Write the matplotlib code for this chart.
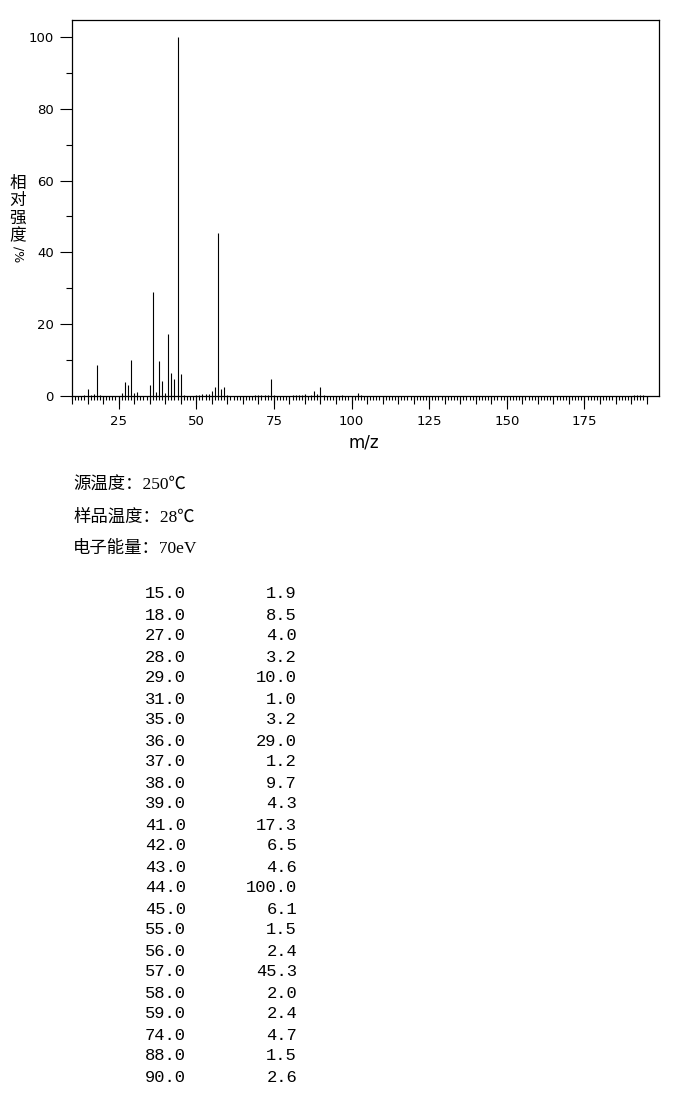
"""Mass spectrum (EI, 70 eV) — bar-line plot plus peak table below."""
import matplotlib
matplotlib.use("Agg")
import matplotlib.pyplot as plt
from matplotlib.ticker import MultipleLocator, NullFormatter, FixedLocator

# listed peaks (m/z, relative intensity %)
peak_mz = [15, 18, 27, 28, 29, 31, 35, 36, 37, 38, 39, 41, 42, 43, 44, 45,
           55, 56, 57, 58, 59, 74, 88, 90]
peak_int = [1.9, 8.5, 4.0, 3.2, 10.0, 1.0, 3.2, 29.0, 1.2, 9.7, 4.3, 17.3,
            6.5, 4.6, 100.0, 6.1, 1.5, 2.4, 45.3, 2.0, 2.4, 4.7, 1.5, 2.6]

# weak peaks (<1 %) visible in the plot but not in the table
weak_mz = [14, 16, 17, 19, 26, 30, 40, 46, 50, 51, 52, 53, 54, 60,
           69, 70, 71, 72, 73, 75, 81, 82, 83, 84, 85, 87, 89, 91,
           97, 102, 103, 191, 192, 193, 194]
weak_int = [0.4, 0.4, 0.5, 0.4, 0.7, 0.7, 0.9, 0.3, 0.4, 0.4, 0.5, 0.5, 0.6, 0.4,
            0.4, 0.4, 0.4, 0.4, 0.4, 0.4, 0.3, 0.4, 0.4, 0.4, 0.5, 0.4, 0.5, 0.4,
            0.3, 0.8, 0.4, 0.3, 0.3, 0.3, 0.3]

header_lines = ["源温度：250℃", "样品温度：28℃", "电子能量：70eV"]

W, H = 680, 1106


def fx(px):
    return px / W


def fy(py):
    return 1 - py / H


fig = plt.figure(figsize=(W / 100, H / 100), dpi=100)
ax = fig.add_axes([fx(72), fy(396), fx(659) - fx(72), fy(20) - fy(396)])

ax.vlines(weak_mz, 0, weak_int, color="k", lw=0.8)
ax.vlines(peak_mz, 0, peak_int, color="k", lw=0.8)

ax.set_xlim(10, 199)
ax.set_ylim(0, 104.7)
for s in ax.spines.values():
    s.set_linewidth(0.9)

ax.set_xticks([25, 50, 75, 100, 125, 150, 175])
ax.xaxis.set_minor_locator(FixedLocator(list(range(10, 196))))
ax.yaxis.set_major_locator(MultipleLocator(20))
ax.yaxis.set_minor_locator(MultipleLocator(10))
ax.tick_params(axis="x", which="major", length=9, width=0.8, pad=5,
               labelsize=9.5, top=False)
ax.tick_params(axis="x", which="minor", length=3, width=0.8, top=False)
ax.tick_params(axis="y", which="major", length=9, width=0.8, pad=4,
               labelsize=9.5, right=False)
ax.tick_params(axis="y", which="minor", length=4, width=0.8, right=False)

# medium ticks every 5 on a second bottom axis
sec = ax.secondary_xaxis("bottom")
sec.set_xticks(list(range(10, 196, 5)))
sec.xaxis.set_major_formatter(NullFormatter())
sec.tick_params(length=6, width=0.8)
sec.spines["bottom"].set_visible(False)

fig.text(fx(364), fy(443), "m/z", ha="center", va="center", fontsize=12)

# vertical y label
for ch, py in zip("相对强度", [183, 200, 218, 236]):
    fig.text(fx(18), fy(py), ch, ha="center", va="center", fontsize=12,
             family=["Noto Sans CJK SC", "DejaVu Sans"])
fig.text(fx(18), fy(254), "/%", ha="center", va="center", fontsize=9,
         rotation=270)

for line, py in zip(header_lines, [486, 518, 549]):
    fig.text(fx(73), fy(py), line, ha="left", va="center", fontsize=12.5,
             family=["Liberation Serif", "Noto Sans CJK SC"])

for i, (m, v) in enumerate(zip(peak_mz, peak_int)):
    py = 594 + i * 21.0
    fig.text(fx(186), fy(py), f"{m:.1f}", ha="right", va="center",
             fontsize=12.3, family="Liberation Mono")
    fig.text(fx(297), fy(py), f"{v:.1f}", ha="right", va="center",
             fontsize=12.3, family="Liberation Mono")

fig.savefig("out.png", dpi=100)
